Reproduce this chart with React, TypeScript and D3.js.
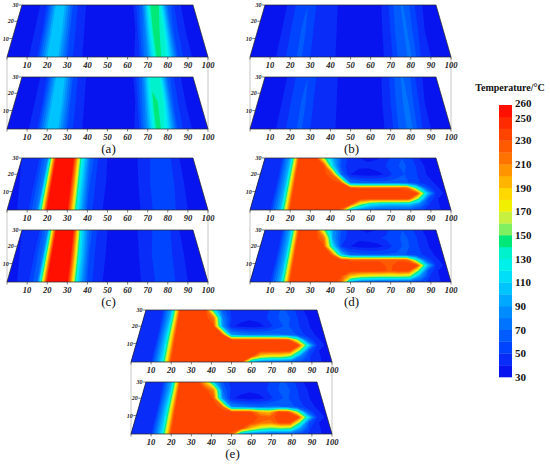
import React, { useEffect, useRef } from 'react';
import * as d3 from 'd3';

// sampled columns along the strip, and the sampled rows across it
const XS = d3.range(0, 101, 5);
const ROWS_FLAT = [0, 15, 30];
const ROWS_POOL = [0, 3, 6, 9, 12, 15, 20, 25, 30];

// temperature readings (°C), one row per entry of ROWS_*, one value per XS
const aTop = [
  [36, 36, 38, 50, 100, 104, 60, 42, 38, 36, 35, 35, 36, 42, 85, 148, 125, 60, 42, 37, 36],
  [36, 36, 38, 50, 100, 104, 60, 42, 38, 36, 35, 35, 36, 40, 78, 148, 135, 62, 42, 37, 36],
  [36, 36, 38, 52, 102, 100, 58, 42, 38, 36, 35, 35, 36, 40, 68, 140, 140, 70, 44, 37, 36],
];
const aBottom = [
  [36, 36, 38, 50, 100, 104, 60, 42, 38, 36, 35, 35, 36, 42, 90, 150, 118, 58, 42, 37, 36],
  [36, 36, 38, 50, 100, 104, 60, 42, 38, 36, 35, 35, 36, 40, 80, 146, 132, 62, 42, 37, 36],
  [36, 36, 38, 52, 100, 100, 58, 42, 38, 36, 35, 35, 36, 40, 70, 132, 135, 68, 44, 37, 36],
];
const bTop = [
  [36, 36, 37, 42, 56, 62, 50, 44, 42, 38, 36, 35, 35, 37, 46, 66, 72, 50, 40, 37, 36],
  [36, 36, 37, 42, 56, 62, 50, 44, 42, 38, 36, 35, 35, 37, 44, 64, 72, 54, 40, 37, 36],
  [36, 36, 37, 42, 55, 60, 50, 44, 42, 38, 36, 35, 35, 37, 42, 60, 72, 58, 42, 37, 36],
];
const bBottom = [
  [36, 36, 37, 42, 56, 62, 50, 44, 42, 38, 36, 35, 35, 37, 45, 64, 74, 52, 40, 37, 36],
  [36, 36, 37, 42, 56, 62, 50, 44, 42, 38, 36, 35, 35, 37, 44, 62, 74, 56, 40, 37, 36],
  [36, 36, 37, 42, 55, 60, 50, 44, 42, 38, 36, 35, 35, 37, 42, 58, 72, 60, 42, 37, 36],
];
const cTop = [
  [38, 40, 46, 75, 256, 256, 256, 120, 58, 42, 38, 36, 36, 38, 45, 55, 58, 48, 40, 37, 36],
  [39, 41, 47, 78, 256, 256, 256, 125, 62, 45, 39, 36, 36, 38, 44, 54, 58, 52, 41, 37, 36],
  [40, 42, 48, 80, 256, 256, 256, 130, 68, 48, 40, 37, 36, 38, 42, 50, 58, 55, 42, 37, 36],
];
const cBottom = [
  [38, 40, 46, 70, 254, 256, 256, 115, 58, 42, 38, 36, 36, 38, 44, 52, 56, 48, 40, 37, 36],
  [39, 41, 47, 74, 254, 256, 256, 120, 60, 44, 39, 36, 36, 38, 43, 52, 58, 50, 41, 37, 36],
  [40, 42, 48, 78, 254, 256, 252, 115, 64, 46, 40, 37, 36, 38, 42, 48, 56, 54, 42, 37, 36],
];
const dTop = [
  [45, 45, 48, 100, 236, 236, 236, 236, 236, 228, 110, 80, 70, 65, 62, 62, 60, 52, 45, 40, 37],
  [45, 45, 48, 100, 236, 236, 236, 236, 236, 236, 232, 160, 120, 110, 105, 105, 105, 80, 50, 40, 37],
  [44, 44, 48, 100, 236, 236, 236, 236, 236, 236, 236, 236, 236, 236, 236, 236, 233, 150, 60, 40, 37],
  [43, 43, 47, 100, 236, 236, 236, 236, 236, 236, 236, 236, 236, 236, 236, 236, 236, 232, 110, 45, 38],
  [42, 42, 46, 100, 236, 236, 236, 236, 236, 236, 232, 229, 229, 229, 229, 229, 226, 140, 65, 42, 37],
  [42, 42, 46, 100, 236, 236, 236, 236, 236, 229, 75, 68, 65, 65, 65, 65, 62, 55, 45, 40, 37],
  [42, 42, 46, 100, 236, 236, 236, 236, 218, 70, 40, 36, 35, 36, 42, 55, 60, 55, 42, 37, 36],
  [44, 44, 48, 100, 236, 236, 236, 232, 110, 55, 44, 42, 42, 46, 50, 58, 62, 56, 42, 37, 36],
  [46, 46, 50, 100, 236, 236, 233, 150, 95, 60, 44, 40, 38, 38, 44, 55, 60, 52, 40, 37, 36],
];
const dBottom = [
  [45, 45, 48, 100, 236, 236, 236, 236, 236, 226, 100, 72, 64, 60, 58, 58, 58, 55, 47, 40, 37],
  [45, 45, 48, 100, 236, 236, 236, 236, 236, 232, 190, 170, 165, 160, 160, 160, 155, 90, 50, 40, 37],
  [44, 44, 48, 100, 236, 236, 236, 236, 236, 236, 236, 236, 236, 236, 228, 236, 233, 150, 60, 40, 37],
  [43, 43, 47, 100, 236, 236, 236, 236, 236, 236, 236, 236, 236, 236, 226, 236, 236, 232, 110, 45, 38],
  [42, 42, 46, 100, 236, 236, 236, 236, 236, 236, 228, 228, 228, 228, 228, 228, 226, 140, 65, 42, 37],
  [42, 42, 46, 100, 236, 236, 236, 236, 229, 110, 70, 65, 62, 62, 62, 62, 60, 55, 48, 40, 37],
  [42, 42, 46, 100, 236, 236, 236, 234, 120, 50, 40, 36, 35, 36, 42, 55, 62, 58, 44, 38, 36],
  [44, 44, 48, 100, 236, 236, 236, 215, 90, 55, 45, 42, 44, 48, 52, 56, 62, 58, 44, 38, 36],
  [46, 46, 50, 100, 236, 236, 233, 150, 90, 58, 44, 40, 38, 40, 45, 55, 60, 54, 42, 37, 36],
];
const eTop = [
  [45, 45, 48, 110, 236, 236, 236, 236, 236, 236, 236, 233, 100, 75, 68, 65, 62, 58, 48, 40, 37],
  [45, 45, 48, 110, 236, 236, 236, 236, 236, 236, 236, 236, 233, 180, 170, 170, 150, 80, 50, 40, 37],
  [44, 44, 48, 110, 236, 236, 236, 236, 236, 236, 236, 236, 236, 236, 236, 236, 233, 150, 60, 40, 37],
  [43, 43, 47, 110, 236, 236, 236, 236, 236, 236, 236, 236, 236, 236, 236, 236, 236, 234, 120, 45, 38],
  [42, 42, 46, 110, 236, 236, 236, 236, 236, 236, 236, 236, 236, 236, 236, 236, 233, 160, 70, 42, 37],
  [42, 42, 46, 110, 236, 236, 236, 236, 236, 234, 90, 80, 75, 75, 75, 72, 70, 60, 48, 40, 37],
  [42, 42, 46, 105, 236, 236, 236, 236, 234, 90, 42, 37, 35, 36, 42, 55, 62, 56, 44, 38, 36],
  [44, 44, 48, 100, 236, 236, 236, 236, 215, 80, 50, 44, 42, 44, 50, 58, 64, 58, 44, 38, 36],
  [46, 46, 50, 100, 236, 236, 236, 233, 120, 65, 46, 42, 40, 42, 46, 56, 62, 55, 42, 37, 36],
];
const eBottom = [
  [45, 45, 48, 110, 236, 236, 236, 236, 236, 236, 226, 100, 75, 68, 62, 60, 58, 55, 47, 40, 37],
  [45, 45, 48, 110, 236, 236, 236, 236, 236, 236, 236, 232, 190, 160, 150, 155, 150, 90, 50, 40, 37],
  [44, 44, 48, 110, 236, 236, 236, 236, 236, 236, 236, 236, 234, 218, 212, 234, 233, 150, 60, 40, 37],
  [43, 43, 47, 110, 236, 236, 236, 236, 236, 236, 236, 236, 236, 228, 224, 236, 236, 234, 120, 45, 38],
  [42, 42, 46, 110, 236, 236, 236, 236, 236, 236, 236, 236, 234, 200, 190, 234, 233, 160, 70, 42, 37],
  [42, 42, 46, 110, 236, 236, 236, 236, 236, 225, 85, 78, 72, 70, 72, 72, 68, 58, 48, 40, 37],
  [42, 42, 46, 105, 236, 236, 236, 236, 229, 85, 42, 37, 35, 36, 42, 55, 62, 56, 44, 38, 36],
  [44, 44, 48, 100, 236, 236, 236, 236, 205, 70, 48, 44, 42, 44, 50, 58, 64, 58, 44, 38, 36],
  [46, 46, 50, 100, 236, 236, 236, 190, 100, 60, 46, 42, 40, 42, 46, 56, 62, 55, 42, 37, 36],
];

// contour levels and their colours (band [t, t+10))
const LEVELS = d3.range(30, 260, 10);
const LEVEL_COLORS = [
  '#0814f0', '#0a2cf8', '#0044ff', '#005cff', '#0074ff', '#008cff',
  '#00a8ff', '#00c4ff', '#00def8', '#00f0ea', '#00f2cc', '#00e878',
  '#80f060', '#c8f040', '#f0f000', '#ffd800', '#ffb400', '#ff9400',
  '#ff7400', '#ff5a00', '#ff4400', '#ff2a00', '#ff1000',
];
const BAR_TICKS = [260, 250, 230, 210, 190, 170, 150, 130, 110, 90, 70, 50, 30];
const X_TICKS = d3.range(0, 101, 10);
const Y_TICKS = [10, 20, 30];

const PANELS = [
  { label: '(a)', x0: 7, y0: 57, fields: [[ROWS_FLAT, aTop], [ROWS_FLAT, aBottom]] },
  { label: '(b)', x0: 250, y0: 57, fields: [[ROWS_FLAT, bTop], [ROWS_FLAT, bBottom]] },
  { label: '(c)', x0: 7, y0: 210, fields: [[ROWS_FLAT, cTop], [ROWS_FLAT, cBottom]] },
  { label: '(d)', x0: 250, y0: 210, fields: [[ROWS_POOL, dTop], [ROWS_POOL, dBottom]] },
  { label: '(e)', x0: 131, y0: 362, fields: [[ROWS_POOL, eTop], [ROWS_POOL, eBottom]] },
];

const W = 201; // strip width at the near edge
const H = 52; // strip height on screen
const INSET = 15; // far edge is narrower on each side
const GAP = 72; // second strip sits this far below the first
const SERIF = "'Liberation Serif', 'Times New Roman', serif";

// perspective: fraction of the height reached at depth y
const depth = (y) => {
  const u = y / 30;
  return (u * 1.1) / (1 + 0.1 * u);
};

const App = () => {
  const ref = useRef(null);

  useEffect(() => {
    const svg = d3.select(ref.current);
    svg.selectAll('*').remove();

    const drawStrip = (g, x0, bottom, rows, grid) => {
      const proj = (x, y) => {
        const f = depth(y);
        const left = x0 + INSET * f;
        const right = x0 + W - INSET * f;
        return [left + ((right - left) * x) / 100, bottom - H * f];
      };
      const n = XS.length;
      const m = rows.length;
      const gx = d3.scaleLinear().domain([0.5, n - 0.5]).range([0, 100]).clamp(true);
      const gy = d3.scaleLinear().domain(rows.map((_, j) => j + 0.5)).range(rows).clamp(true);
      const path = d3.geoPath(
        d3.geoTransform({
          point(px, py) {
            const [sx, sy] = proj(gx(px), gy(py));
            this.stream.point(sx, sy);
          },
        })
      );
      const bands = d3.contours().size([n, m]).thresholds(LEVELS)(grid.flat());

      g.append('g')
        .selectAll('path')
        .data(bands)
        .join('path')
        .attr('d', path)
        .attr('fill', (d, i) => LEVEL_COLORS[i]);

      const outline = [proj(0, 0), proj(100, 0), proj(100, 30), proj(0, 30)];
      g.append('path')
        .attr('d', d3.line()(outline) + 'Z')
        .attr('fill', 'none')
        .attr('stroke', '#222')
        .attr('stroke-width', 0.7);

      // ticks along the near edge
      X_TICKS.forEach((v) => {
        const [sx, sy] = proj(v, 0);
        g.append('line')
          .attr('x1', sx).attr('x2', sx)
          .attr('y1', sy).attr('y2', sy + 2.5)
          .attr('stroke', '#222').attr('stroke-width', 0.6);
        if (v > 0) {
          g.append('text')
            .attr('x', sx).attr('y', sy + 11)
            .attr('text-anchor', 'middle')
            .attr('font-family', SERIF)
            .attr('font-style', 'italic')
            .attr('font-weight', 'bold')
            .attr('font-size', 8.5)
            .attr('fill', '#222')
            .text(v);
        }
      });

      // ticks on the slanted left edge
      Y_TICKS.forEach((v) => {
        const [sx, sy] = proj(0, v);
        g.append('line')
          .attr('x1', sx - 3).attr('x2', sx)
          .attr('y1', sy).attr('y2', sy)
          .attr('stroke', '#222').attr('stroke-width', 0.6);
        g.append('text')
          .attr('x', sx - 3.5).attr('y', sy)
          .attr('dy', '0.35em')
          .attr('text-anchor', 'end')
          .attr('font-family', SERIF)
          .attr('font-style', 'italic')
          .attr('font-weight', 'bold')
          .attr('font-size', 6)
          .attr('fill', '#222')
          .text(v);
      });
    };

    PANELS.forEach((p) => {
      const g = svg.append('g');
      // light frame joining the two strips
      [p.x0, p.x0 + W].forEach((x) => {
        g.append('line')
          .attr('x1', x).attr('x2', x)
          .attr('y1', p.y0).attr('y2', p.y0 + GAP)
          .attr('stroke', '#b8b8b8').attr('stroke-width', 0.8);
      });
      p.fields.forEach(([rows, grid], k) => drawStrip(g, p.x0, p.y0 + k * GAP, rows, grid));
      g.append('text')
        .attr('x', p.x0 + W / 2 + 1)
        .attr('y', p.y0 + GAP + 24)
        .attr('text-anchor', 'middle')
        .attr('font-family', SERIF)
        .attr('font-size', 13)
        .attr('fill', '#111')
        .text(p.label);
    });

    // colour bar
    const barY = d3.scaleLinear().domain([30, 260]).range([377, 105]);
    const bar = svg.append('g');
    bar.selectAll('rect')
      .data(LEVELS)
      .join('rect')
      .attr('x', 499)
      .attr('width', 13)
      .attr('y', (d) => barY(d + 10))
      .attr('height', (d) => barY(d) - barY(d + 10) + 0.3)
      .attr('fill', (d, i) => LEVEL_COLORS[i]);
    bar.selectAll('text.tick')
      .data(BAR_TICKS)
      .join('text')
      .attr('class', 'tick')
      .attr('x', 515)
      // 260 and 250 sit close together, nudge them apart a little
      .attr('y', (d) => barY(d) + (d === 260 ? -1.5 : d === 250 ? 1 : 0))
      .attr('dy', '0.35em')
      .attr('font-family', SERIF)
      .attr('font-weight', 'bold')
      .attr('font-size', 11)
      .attr('fill', '#111')
      .text((d) => d);
    bar.append('text')
      .attr('x', 510)
      .attr('y', 91)
      .attr('text-anchor', 'middle')
      .attr('font-family', SERIF)
      .attr('font-weight', 'bold')
      .attr('font-size', 10)
      .attr('fill', '#111')
      .text('Temperature/°C');
  }, []);

  return (
    <svg
      ref={ref}
      width={550}
      height={464}
      style={{ position: 'absolute', left: 0, top: 0, background: '#fff' }}
    ></svg>
  );
};

export default App;
